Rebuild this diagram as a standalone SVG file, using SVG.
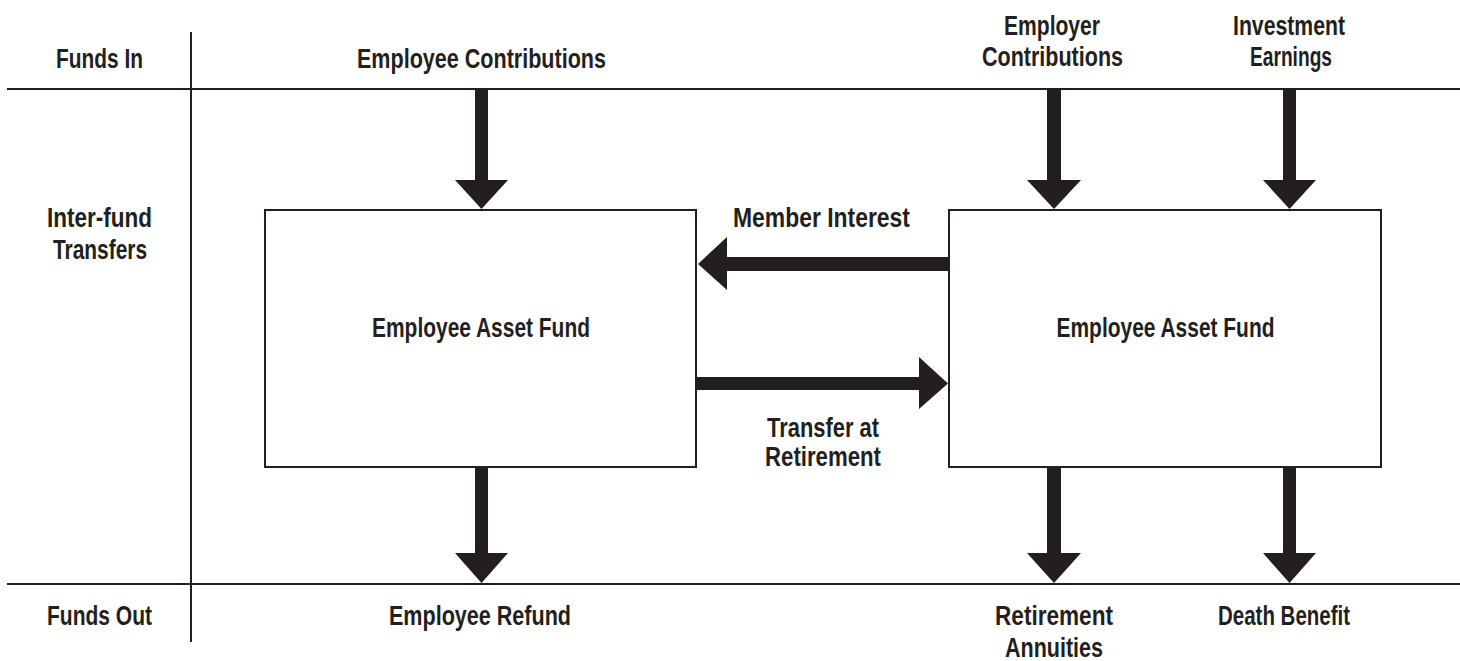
<svg xmlns="http://www.w3.org/2000/svg" width="1460" height="661" viewBox="0 0 1460 661">
  <style>
    .t { font-family: "Liberation Sans", Arial, sans-serif; font-weight: bold; font-size: 27px; fill: #231f20; text-anchor: middle; }
    .rule { stroke: #231f20; stroke-width: 2; fill: none; }
    .box { stroke: #231f20; stroke-width: 2; fill: #ffffff; }
    .arrow { fill: #231f20; }
  </style>
  <rect width="1460" height="661" fill="#ffffff"/>

  <!-- grid rules -->
  <g id="grid">
    <line class="rule" x1="7" y1="89" x2="1460" y2="89"/>
    <line class="rule" x1="7" y1="584" x2="1460" y2="584"/>
    <line class="rule" x1="191" y1="32" x2="191" y2="642"/>
  </g>

  <!-- row labels (condensed by textLength) -->
  <g id="row-labels">
    <text class="t" x="99.5" y="68" textLength="87" lengthAdjust="spacingAndGlyphs">Funds In</text>
    <text class="t" x="99.5" y="227" textLength="105" lengthAdjust="spacingAndGlyphs">Inter-fund</text>
    <text class="t" x="100" y="259" textLength="94" lengthAdjust="spacingAndGlyphs">Transfers</text>
    <text class="t" x="99.5" y="625" textLength="105" lengthAdjust="spacingAndGlyphs">Funds Out</text>
  </g>

  <!-- sources -->
  <g id="src-employee">
    <text class="t" x="481.5" y="68" textLength="249" lengthAdjust="spacingAndGlyphs">Employee Contributions</text>
  </g>
  <g id="src-employer">
    <text class="t" x="1052" y="35" textLength="96" lengthAdjust="spacingAndGlyphs">Employer</text>
    <text class="t" x="1052.5" y="66" textLength="141" lengthAdjust="spacingAndGlyphs">Contributions</text>
  </g>
  <g id="src-investment">
    <text class="t" x="1289" y="35" textLength="112" lengthAdjust="spacingAndGlyphs">Investment</text>
    <text class="t" x="1291" y="66" textLength="82" lengthAdjust="spacingAndGlyphs">Earnings</text>
  </g>

  <!-- funds -->
  <g id="fund-left">
    <rect class="box" x="265" y="210" width="431" height="257"/>
    <text class="t" x="481" y="337" textLength="218" lengthAdjust="spacingAndGlyphs">Employee Asset Fund</text>
  </g>
  <g id="fund-right">
    <rect class="box" x="949" y="210" width="432" height="257"/>
    <text class="t" x="1165.5" y="337" textLength="218" lengthAdjust="spacingAndGlyphs">Employee Asset Fund</text>
  </g>

  <!-- outflows -->
  <g id="out-refund">
    <text class="t" x="480" y="625" textLength="182" lengthAdjust="spacingAndGlyphs">Employee Refund</text>
  </g>
  <g id="out-annuities">
    <text class="t" x="1054" y="625" textLength="118" lengthAdjust="spacingAndGlyphs">Retirement</text>
    <text class="t" x="1054" y="657" textLength="98" lengthAdjust="spacingAndGlyphs">Annuities</text>
  </g>
  <g id="out-death">
    <text class="t" x="1284" y="625" textLength="132" lengthAdjust="spacingAndGlyphs">Death Benefit</text>
  </g>

  <!-- connectors -->
  <g id="connectors">
    <!-- inflows -->
    <polygon class="arrow" points="475,90 488,90 488,180 508,180 481.5,209 455,180 475,180"/>
    <polygon class="arrow" points="1047,90 1061,90 1061,180 1081,180 1054,209 1027,180 1047,180"/>
    <polygon class="arrow" points="1283,90 1296,90 1296,180 1316,180 1289.5,209 1263,180 1283,180"/>
    <!-- outflows -->
    <polygon class="arrow" points="475,468 488,468 488,553 508,553 481.5,583 455,553 475,553"/>
    <polygon class="arrow" points="1047,468 1061,468 1061,553 1081,553 1054,583 1027,553 1047,553"/>
    <polygon class="arrow" points="1283,468 1296,468 1296,553 1316,553 1289.5,583 1263,553 1283,553"/>
    <!-- member interest -->
    <polygon class="arrow" points="948,257 948,271 727,271 727,290 698,264 727,237 727,257"/>
    <text class="t" x="821.5" y="227" textLength="177" lengthAdjust="spacingAndGlyphs">Member Interest</text>
    <!-- transfer at retirement -->
    <polygon class="arrow" points="697,377 919,377 919,357 948,383.5 919,409 919,390 697,390"/>
    <text class="t" x="823" y="437" textLength="112" lengthAdjust="spacingAndGlyphs">Transfer at</text>
    <text class="t" x="823" y="466" textLength="116" lengthAdjust="spacingAndGlyphs">Retirement</text>
  </g>
</svg>
